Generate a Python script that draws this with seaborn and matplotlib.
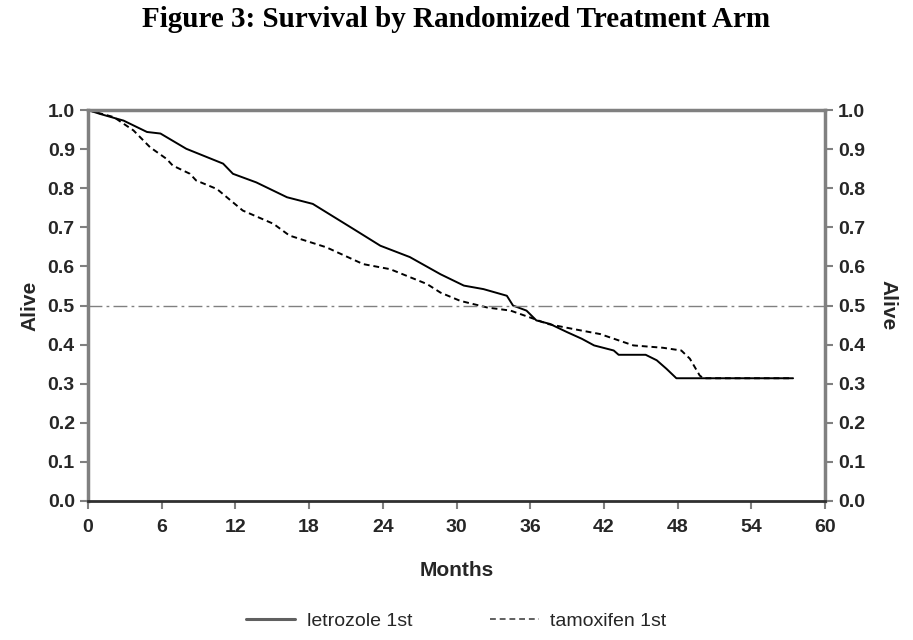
import numpy as np
import pandas as pd
import matplotlib
matplotlib.use("Agg")
import matplotlib.pyplot as plt
import seaborn as sns

# survival curves (months, proportion alive)
letrozole_months = [0, 1, 2.9, 4.8, 5.9, 8.0, 11.0, 11.8, 13.7, 16.2, 18.3, 21.6, 23.8, 26.2,
                    28.7, 30.6, 32.2, 34.1, 34.6, 35.7, 36.5, 37.6, 39.0, 40.2, 41.2, 42.8,
                    43.2, 45.4, 46.3, 47.1, 47.9, 57.4]
letrozole_alive = [1.0, 0.99, 0.973, 0.944, 0.94, 0.901, 0.863, 0.837, 0.815, 0.777, 0.76, 0.696,
                   0.653, 0.624, 0.58, 0.551, 0.542, 0.525, 0.50, 0.487, 0.462, 0.453, 0.432,
                   0.415, 0.398, 0.385, 0.374, 0.374, 0.36, 0.338, 0.314, 0.314]

tamoxifen_months = [0, 2.1, 3.7, 5.05, 6.4, 6.9, 8.3, 8.8, 10.5, 12.6, 15.1, 16.4, 19.4, 22.4,
                    24.6, 27.6, 28.7, 30.3, 32.5, 34.4, 36.3, 37.4, 39.5, 41.7, 44.4, 46.8,
                    48.3, 49.0, 49.8, 50.1, 57.4]
tamoxifen_alive = [1.0, 0.982, 0.948, 0.905, 0.875, 0.858, 0.837, 0.82, 0.798, 0.743, 0.709,
                   0.679, 0.649, 0.606, 0.593, 0.555, 0.533, 0.512, 0.495, 0.487, 0.466, 0.453,
                   0.44, 0.427, 0.398, 0.392, 0.385, 0.364, 0.321, 0.314, 0.314]

x_ticks = list(range(0, 61, 6))
y_ticks = [round(v * 0.1, 1) for v in range(11)]

df = pd.concat([
    pd.DataFrame({"Months": letrozole_months, "Alive": letrozole_alive, "Arm": "letrozole 1st"}),
    pd.DataFrame({"Months": tamoxifen_months, "Alive": tamoxifen_alive, "Arm": "tamoxifen 1st"}),
])

sns.set_style("white")
plt.rcParams["font.family"] = ["Liberation Sans", "DejaVu Sans"]

fig = plt.figure(figsize=(9.13, 6.4), dpi=100)
ax = fig.add_axes([0.0964, 0.2172, 0.8072, 0.6108])

sns.lineplot(data=df, x="Months", y="Alive", style="Arm", color="black", linewidth=1.4,
             dashes={"letrozole 1st": "", "tamoxifen 1st": (3, 2)}, legend=False, ax=ax)
ax.axhline(0.5, color="#808080", linewidth=1.0, dashes=(10, 3, 2, 3))

ax.set_xlim(0, 60)
ax.set_ylim(0, 1.0)
ax.set_xticks(x_ticks)
ax.set_yticks(y_ticks)
ax.set_yticklabels([f"{v:.1f}" for v in y_ticks])
ax.tick_params(axis="both", direction="out", length=6, width=1.5, color="#808080",
               labelsize=14, right=True, labelright=True, bottom=True, left=True)
ax.tick_params(axis="x", pad=7)
for lbl in ax.get_xticklabels() + ax.get_yticklabels():
    lbl.set_fontweight("bold")
for side in ["left", "right", "top"]:
    ax.spines[side].set_color("#808080")
    ax.spines[side].set_linewidth(2.5)
ax.spines["bottom"].set_color("#303030")
ax.spines["bottom"].set_linewidth(2.0)

ax.set_xlabel("Months", fontsize=15, fontweight="bold", labelpad=18)
ax.set_ylabel("Alive", fontsize=15, fontweight="bold", labelpad=6)
ax.text(1.085, 0.5, "Alive", transform=ax.transAxes, rotation=270, fontsize=15,
        fontweight="bold", va="center", ha="center")

fig.suptitle("Figure 3: Survival by Randomized Treatment Arm", x=0.5, y=0.99,
             fontsize=21, fontweight="bold", family="Liberation Serif", color="black")

handles = [plt.Line2D([], [], color="#606060", linewidth=2.2),
           plt.Line2D([], [], color="#606060", linewidth=1.4, dashes=(3, 2))]
fig.legend(handles, ["letrozole 1st", "tamoxifen 1st"], loc="center", ncol=2,
           bbox_to_anchor=(0.5, 0.03), frameon=False, fontsize=14, handlelength=2.5,
           columnspacing=4.0, handletextpad=0.6)

fig.savefig("out.png", dpi=100)
